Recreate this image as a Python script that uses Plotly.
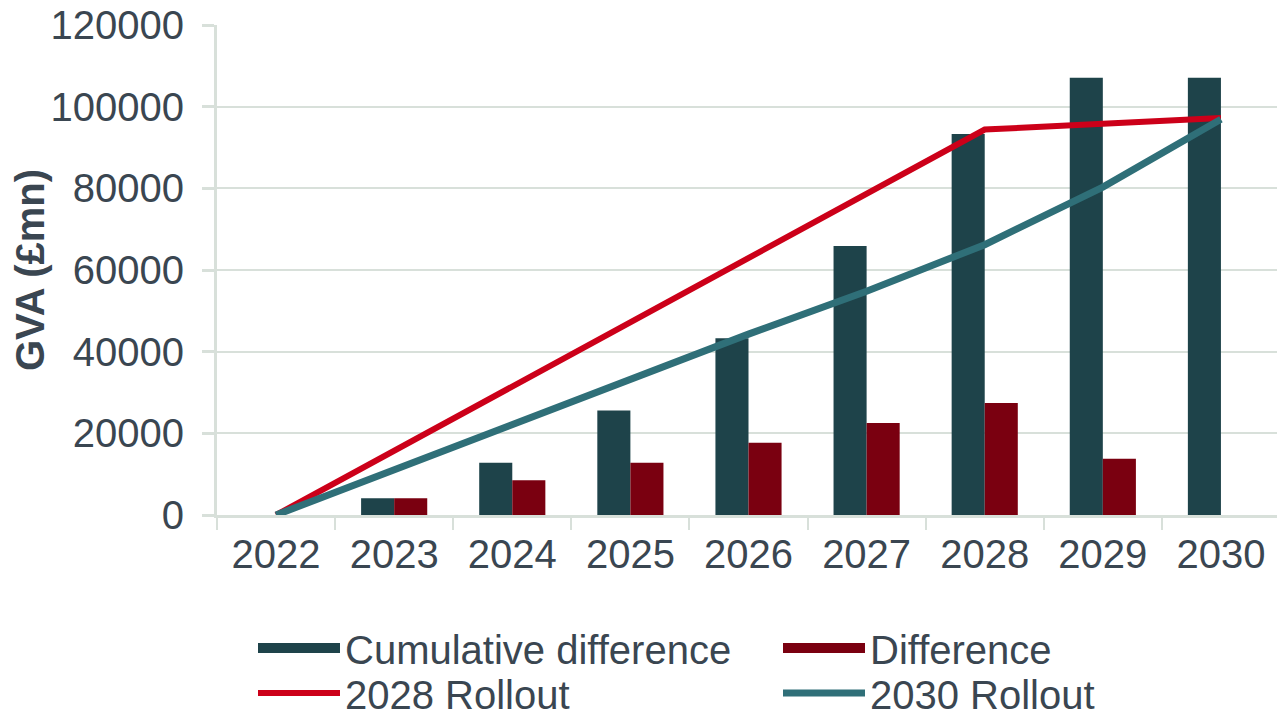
import plotly.graph_objects as go

years = ["2022", "2023", "2024", "2025", "2026", "2027", "2028", "2029", "2030"]
cumulative_difference = [0, 4100, 12800, 25600, 43300, 65900, 93300, 107100, 107100]
difference = [0, 4100, 8500, 12800, 17700, 22500, 27400, 13800, 0]
rollout_2028 = [0, 15700, 31400, 47100, 62900, 78600, 94400, 95800, 97200]
rollout_2030 = [0, 11000, 22000, 33200, 44300, 54800, 66200, 80300, 96900]
y_ticks = [0, 20000, 40000, 60000, 80000, 100000, 120000]

C_CUM = "#1E434A"
C_DIFF = "#7A0010"
C_RED = "#CC0019"
C_TEAL = "#2F6F78"
C_GRID = "#D8E0DA"
C_TEXT = "#3A4651"
FONT = "Liberation Sans, Arial, sans-serif"
FS = 40
W, H = 1277, 711

fig = go.Figure()
fig.add_trace(go.Bar(x=years, y=cumulative_difference, name="Cumulative difference",
                     marker=dict(color=C_CUM, line=dict(width=0)),
                     showlegend=False))
fig.add_trace(go.Bar(x=years, y=difference, name="Difference",
                     marker=dict(color=C_DIFF, line=dict(width=0)),
                     showlegend=False))
fig.add_trace(go.Scatter(x=years, y=rollout_2028, name="2028 Rollout", mode="lines",
                         line=dict(color=C_RED, width=6), cliponaxis=False,
                         legend="legend2", legendrank=1))
fig.add_trace(go.Scatter(x=years, y=rollout_2030, name="2030 Rollout", mode="lines",
                         line=dict(color=C_TEAL, width=7), cliponaxis=False,
                         legend="legend2", legendrank=2))
# legend proxies for the bar series (wide swatches)
fig.add_trace(go.Scatter(x=[None], y=[None], name="Cumulative difference", mode="lines",
                         line=dict(color=C_CUM, width=22), legend="legend", legendrank=1))
fig.add_trace(go.Scatter(x=[None], y=[None], name="Difference", mode="lines",
                         line=dict(color=C_DIFF, width=22), legend="legend", legendrank=2))

legend_common = dict(orientation="h", xref="container", yref="container",
                     x=245 / W, xanchor="left", yanchor="middle",
                     itemwidth=82, entrywidth=428, font=dict(size=FS, color=C_TEXT),
                     bgcolor="rgba(0,0,0,0)", borderwidth=0)

fig.update_layout(
    width=W, height=H,
    margin=dict(l=209, r=5, t=17, b=204, autoexpand=False),
    paper_bgcolor="white", plot_bgcolor="white",
    barmode="group", bargap=0.44, bargroupgap=0,
    font=dict(family=FONT, size=FS, color=C_TEXT),
    showlegend=True,
    legend=dict(y=1 - 640 / H, **legend_common),
    legend2=dict(y=1 - 685 / H, **legend_common),
    xaxis=dict(type="category", showline=True, linecolor=C_GRID, linewidth=3,
               ticks="outside", tickson="boundaries", ticklen=12, tickcolor=C_GRID,
               tickwidth=2, showgrid=False, ticklabelstandoff=2, automargin=False,
               tickfont=dict(size=FS, color=C_TEXT)),
    yaxis=dict(range=[0, 120000], tickvals=y_ticks, ticktext=[str(v) for v in y_ticks],
               showline=True, linecolor=C_GRID, linewidth=3, ticks="outside",
               ticklen=12, tickcolor=C_GRID, tickwidth=3, showgrid=True,
               gridcolor=C_GRID, gridwidth=2, zeroline=False, ticklabelstandoff=10,
               ticklabeloverflow="allow",
               automargin=False, tickfont=dict(size=FS, color=C_TEXT),
               title=dict(text="<b>GVA (£mn)</b>", standoff=9,
                          font=dict(size=FS, color=C_TEXT))),
    yaxis2=dict(range=[0, 120000], tickvals=y_ticks, overlaying="y", side="left",
                anchor="x", showticklabels=False, ticks="inside", ticklen=13,
                tickcolor=C_GRID, tickwidth=3, showgrid=False, zeroline=False,
                showline=False, automargin=False),
)

fig.write_html("out.html")
